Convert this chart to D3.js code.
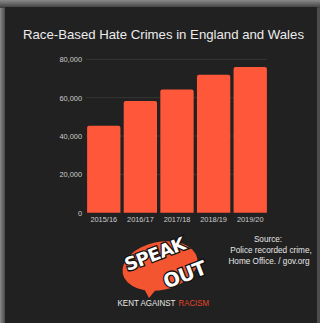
<!DOCTYPE html>
<html>
<head>
<meta charset="utf-8">
<script src="https://cdn.jsdelivr.net/npm/d3@7"></script>
<style>
  html, body { margin: 0; padding: 0; background: #4a4a4a; }
  svg { display: block; }
</style>
</head>
<body>
<svg id="chart" width="320" height="323"></svg>
<script>
const years = ["2015/16", "2016/17", "2017/18", "2018/19", "2019/20"];
const crimes = [45400, 58300, 64200, 72000, 76000];
const yTicks = [0, 20000, 40000, 60000, 80000];

const W = 320, H = 323;
const svg = d3.select("#chart");

// outer frame glow
const defs = svg.append("defs");
const lg = defs.append("linearGradient").attr("id", "frameL").attr("x1", 0).attr("x2", 1).attr("y1", 0).attr("y2", 0);
lg.append("stop").attr("offset", "0%").attr("stop-color", "#8a8a8a");
lg.append("stop").attr("offset", "100%").attr("stop-color", "#3c3c3c");
const tg = defs.append("linearGradient").attr("id", "frameT").attr("x1", 0).attr("x2", 0).attr("y1", 0).attr("y2", 1);
tg.append("stop").attr("offset", "0%").attr("stop-color", "#8a8a8a");
tg.append("stop").attr("offset", "100%").attr("stop-color", "#3c3c3c");

svg.append("rect").attr("width", W).attr("height", H).attr("fill", "#4c4c4c");
svg.append("rect").attr("x", 0).attr("y", 0).attr("width", 6).attr("height", H).attr("fill", "url(#frameL)");
svg.append("rect").attr("x", 0).attr("y", 0).attr("width", W).attr("height", 8).attr("fill", "url(#frameT)");
svg.append("rect").attr("x", 5).attr("y", 7).attr("width", 312).attr("height", H - 7).attr("fill", "#212121");

// title
svg.append("text")
  .attr("x", 163.5).attr("y", 39)
  .attr("text-anchor", "middle")
  .attr("font-family", "Liberation Sans, Arial, sans-serif")
  .attr("font-size", 13.2)
  .attr("fill", "#ececec")
  .text("Race-Based Hate Crimes in England and Wales");

// scales
const x = d3.scaleBand().domain(years).range([86, 268]).paddingInner(0.09).paddingOuter(0.03);
const y = d3.scaleLinear().domain([0, 80000]).range([212.7, 59.3]);

// gridlines
svg.append("g").selectAll("line").data(yTicks.filter(d => d > 0)).join("line")
  .attr("x1", 86).attr("x2", 267)
  .attr("y1", d => y(d)).attr("y2", d => y(d))
  .attr("stroke", "#363636").attr("stroke-width", 1);

// y axis labels
const yAxis = d3.axisLeft(y).tickValues(yTicks).tickSize(0).tickPadding(4).tickFormat(d3.format(","));
const gy = svg.append("g").attr("transform", "translate(86,0)").call(yAxis);
gy.select(".domain").remove();
gy.selectAll("text").attr("fill", "#cccccc").attr("font-size", 7.4)
  .attr("font-family", "Liberation Sans, Arial, sans-serif");

// x axis labels
const xAxis = d3.axisBottom(x).tickSize(0).tickPadding(4);
const gx = svg.append("g").attr("transform", "translate(0,213)").call(xAxis);
gx.select(".domain").remove();
gx.selectAll("text").attr("fill", "#cccccc").attr("font-size", 7.4)
  .attr("font-family", "Liberation Sans, Arial, sans-serif");

// bars with rounded tops
const r = 2;
svg.append("g").selectAll("path").data(years.map((k, i) => ({ k, v: crimes[i] }))).join("path")
  .attr("fill", "#fe573a")
  .attr("d", d => {
    const x0 = x(d.k), w = x.bandwidth(), y0 = y(d.v), yb = y(0);
    return `M${x0},${yb}V${y0 + r}Q${x0},${y0} ${x0 + r},${y0}H${x0 + w - r}Q${x0 + w},${y0} ${x0 + w},${y0 + r}V${yb}Z`;
  });

// source note
const src = svg.append("text")
  .attr("text-anchor", "middle")
  .attr("font-family", "Liberation Sans, Arial, sans-serif")
  .attr("font-size", 8.2)
  .attr("fill", "#e6e6e6");
[["Source:", 268, 242], ["Police recorded crime,", 271, 253], ["Home Office. / gov.org", 269, 264]].forEach(([t, tx, ty]) => {
  src.append("tspan").attr("x", tx).attr("y", ty).text(t);
});

// logo: speech bubble with tail
const logo = svg.append("g");
logo.append("ellipse")
  .attr("cx", 160).attr("cy", 266).attr("rx", 38).attr("ry", 24)
  .attr("transform", "rotate(-12,160,266)")
  .attr("fill", "#f2552f");
logo.append("path")
  .attr("fill", "#f2552f")
  .attr("d", "M142,285 L149,298 L158,287 Z");

const speakStyle = sel => sel
  .attr("font-family", "DejaVu Sans, Arial, sans-serif")
  .attr("font-weight", "bold")
  .attr("fill", "#ffffff")
  .attr("stroke", "#111")
  .attr("stroke-width", 2.6)
  .attr("paint-order", "stroke")
  .attr("text-anchor", "middle");

logo.append("text").call(speakStyle)
  .attr("font-size", 18)
  .attr("letter-spacing", -0.6)
  .attr("transform", "translate(157,260) rotate(-21)")
  .text("SPEAK");
logo.append("text").call(speakStyle)
  .attr("font-size", 19.5)
  .attr("letter-spacing", -0.6)
  .attr("transform", "translate(187,281) rotate(-21)")
  .text("OUT");

// organisation name under the logo
const karStyle = sel => sel
  .attr("y", 306)
  .attr("lengthAdjust", "spacingAndGlyphs")
  .attr("font-family", "Liberation Sans, Arial, sans-serif")
  .attr("font-size", 8.8);
svg.append("text").call(karStyle)
  .attr("x", 117.5).attr("textLength", 58)
  .attr("fill", "#e8e8e8")
  .text("KENT AGAINST");
svg.append("text").call(karStyle)
  .attr("x", 178.5).attr("textLength", 30.5)
  .attr("fill", "#e5472a")
  .text("RACISM");
</script>
</body>
</html>
